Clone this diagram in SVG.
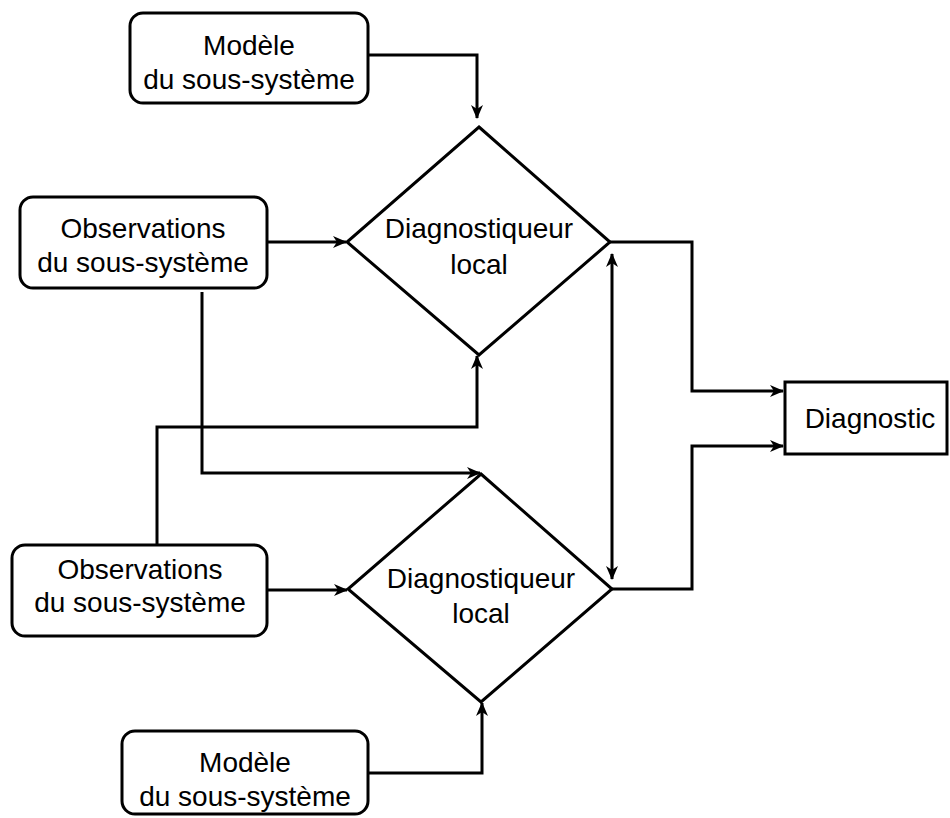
<svg xmlns="http://www.w3.org/2000/svg" width="950" height="818" viewBox="0 0 950 818">
<style>
.box{fill:#fff;stroke:#000;stroke-width:3}
.t{font-family:"Liberation Sans",Arial,sans-serif;font-size:28px;fill:#000;text-anchor:middle}
.c{fill:none;stroke:#000;stroke-width:3}
</style>
<defs>
<marker id="ah" viewBox="0 0 14 12" refX="13" refY="6" markerWidth="14" markerHeight="12" markerUnits="userSpaceOnUse" orient="auto-start-reverse">
<path d="M0,0 L14,6 L0,12 L4,6 Z" fill="#000"/>
</marker>
</defs>
<rect width="950" height="818" fill="#fff"/>
<g id="connectors">
<path class="c" d="M368,55 H477 V118" marker-end="url(#ah)"/>
<path class="c" d="M267,242 H346" marker-end="url(#ah)"/>
<path class="c" d="M202,292 V473 H480" marker-end="url(#ah)"/>
<path class="c" d="M157,545 V427 H477 V356" marker-end="url(#ah)"/>
<path class="c" d="M267,590 H347" marker-end="url(#ah)"/>
<path class="c" d="M368,773 H482 V703" marker-end="url(#ah)"/>
<path class="c" d="M610,242 H692 V391 H783" marker-end="url(#ah)"/>
<path class="c" d="M612,589 H692 V446 H783" marker-end="url(#ah)"/>
<path class="c" d="M612,254 V579" marker-start="url(#ah)" marker-end="url(#ah)"/>
</g>
<g id="modele1">
<rect class="box" x="130" y="13" width="238" height="90" rx="13"/>
<text class="t" x="249" y="55">Modèle</text>
<text class="t" x="249" y="89">du sous-système</text>
</g>
<g id="obs1">
<rect class="box" x="20" y="197" width="247" height="91" rx="13"/>
<text class="t" x="143" y="238">Observations</text>
<text class="t" x="143" y="272">du sous-système</text>
</g>
<g id="diag1">
<polygon class="box" points="479,127 610,242 479,355 347,242"/>
<text class="t" x="479" y="238">Diagnostiqueur</text>
<text class="t" x="479" y="274">local</text>
</g>
<g id="obs2">
<rect class="box" x="12" y="545" width="255" height="91" rx="13"/>
<text class="t" x="140" y="579">Observations</text>
<text class="t" x="140" y="612">du sous-système</text>
</g>
<g id="diag2">
<polygon class="box" points="481,474 612,589 481,702 348,589"/>
<text class="t" x="481" y="588">Diagnostiqueur</text>
<text class="t" x="481" y="623">local</text>
</g>
<g id="modele2">
<rect class="box" x="122" y="731" width="246" height="83" rx="13"/>
<text class="t" x="245" y="772">Modèle</text>
<text class="t" x="245" y="806">du sous-système</text>
</g>
<g id="diagnostic">
<rect class="box" x="785" y="382" width="162" height="72"/>
<text class="t" x="870" y="428">Diagnostic</text>
</g>
</svg>
